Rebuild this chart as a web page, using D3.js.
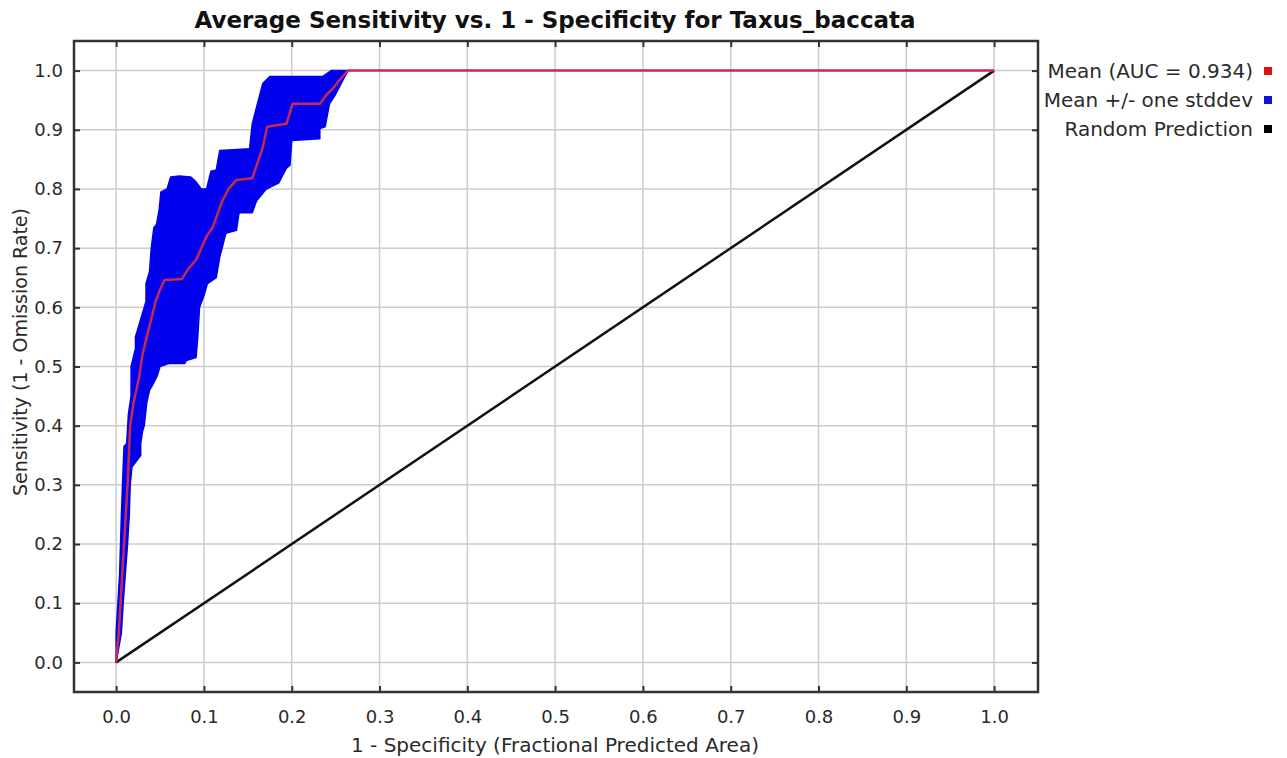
<!DOCTYPE html>
<html>
<head>
<meta charset="utf-8">
<script src="https://cdnjs.cloudflare.com/ajax/libs/d3/7.8.5/d3.min.js"></script>
<style>
  body { margin: 0; background: #fff; }
  text { font-family: "DejaVu Sans", Verdana, sans-serif; }
</style>
</head>
<body>
<svg id="chart" width="1287" height="758"></svg>
<script>
// mean ROC curve (1 - specificity, sensitivity)
var meanX = [0, 0.003, 0.005, 0.009, 0.013, 0.016, 0.020, 0.026, 0.030, 0.034, 0.040, 0.045, 0.050, 0.055, 0.075, 0.082, 0.091, 0.097, 0.103, 0.110, 0.116, 0.121, 0.128, 0.137, 0.155, 0.160, 0.167, 0.172, 0.194, 0.201, 0.232, 0.240, 0.247, 0.255, 0.264, 1.0];
var meanY = [0, 0.05, 0.10, 0.20, 0.30, 0.40, 0.44, 0.48, 0.52, 0.545, 0.58, 0.61, 0.63, 0.646, 0.648, 0.665, 0.68, 0.70, 0.72, 0.735, 0.76, 0.78, 0.80, 0.815, 0.818, 0.84, 0.87, 0.905, 0.91, 0.944, 0.944, 0.96, 0.97, 0.985, 1.0, 1.0];

// mean + one stddev (upper edge of band)
var upperX = [0, 0.000, 0.004, 0.006, 0.008, 0.009, 0.012, 0.014, 0.017, 0.017, 0.022, 0.022, 0.028, 0.034, 0.034, 0.038, 0.040, 0.043, 0.046, 0.049, 0.051, 0.058, 0.062, 0.072, 0.085, 0.091, 0.097, 0.103, 0.108, 0.114, 0.118, 0.152, 0.155, 0.162, 0.167, 0.175, 0.235, 0.245];
var upperY = [0, 0.05, 0.15, 0.25, 0.33, 0.365, 0.37, 0.42, 0.45, 0.50, 0.53, 0.55, 0.58, 0.61, 0.64, 0.66, 0.70, 0.735, 0.74, 0.765, 0.795, 0.80, 0.82, 0.822, 0.82, 0.812, 0.80, 0.80, 0.83, 0.832, 0.865, 0.868, 0.91, 0.95, 0.978, 0.99, 0.99, 1.0];

// mean - one stddev (lower edge of band)
var lowerX = [0, 0.006, 0.008, 0.010, 0.013, 0.015, 0.016, 0.018, 0.028, 0.028, 0.030, 0.032, 0.035, 0.038, 0.042, 0.047, 0.050, 0.060, 0.078, 0.080, 0.091, 0.093, 0.095, 0.100, 0.104, 0.114, 0.118, 0.125, 0.137, 0.140, 0.155, 0.160, 0.171, 0.185, 0.194, 0.198, 0.200, 0.232, 0.232, 0.238, 0.243, 0.250, 0.258, 0.264];
var lowerY = [0, 0.05, 0.10, 0.14, 0.20, 0.25, 0.30, 0.33, 0.35, 0.37, 0.39, 0.40, 0.44, 0.46, 0.47, 0.485, 0.50, 0.505, 0.505, 0.51, 0.515, 0.55, 0.60, 0.62, 0.64, 0.65, 0.685, 0.725, 0.73, 0.76, 0.76, 0.78, 0.80, 0.81, 0.835, 0.84, 0.882, 0.885, 0.902, 0.905, 0.944, 0.96, 0.983, 1.0];

var randomX = [0, 1];
var randomY = [0, 1];

var ticks = [0, 0.1, 0.2, 0.3, 0.4, 0.5, 0.6, 0.7, 0.8, 0.9, 1.0];
var legendLabels = ["Mean (AUC = 0.934)", "Mean +/- one stddev", "Random Prediction"];
var legendColors = ["#e01010", "#1010e0", "#000000"];

// plot box
var margin = {top: 41, right: 249, bottom: 66, left: 74},
    width = 1287 - margin.left - margin.right,
    height = 758 - margin.top - margin.bottom;

var x = d3.scaleLinear().domain([-0.048, 1.05]).range([0, width]);
var y = d3.scaleLinear().domain([-0.05, 1.05]).range([height, 0]);

var svg = d3.select("#chart");
var g = svg.append("g")
    .attr("transform", "translate(" + margin.left + "," + margin.top + ")");

// grid
g.selectAll(".gx").data(ticks).enter().append("line")
    .attr("x1", function(d) { return x(d); })
    .attr("x2", function(d) { return x(d); })
    .attr("y1", 0).attr("y2", height)
    .attr("stroke", "#cccccc").attr("stroke-width", 1.5);
g.selectAll(".gy").data(ticks).enter().append("line")
    .attr("y1", function(d) { return y(d); })
    .attr("y2", function(d) { return y(d); })
    .attr("x1", 0).attr("x2", width)
    .attr("stroke", "#cccccc").attr("stroke-width", 1.5);

// std band
var line = d3.line().x(function(d) { return x(d[0]); }).y(function(d) { return y(d[1]); });
var upperPts = upperX.map(function(d, i) { return [d, upperY[i]]; });
var lowerPts = lowerX.map(function(d, i) { return [d, lowerY[i]]; });
var band = upperPts.concat(lowerPts.slice().reverse());
g.append("path")
    .attr("d", line(band) + "Z")
    .attr("fill", "#0000ee")
    .attr("stroke", "#0000ee")
    .attr("stroke-width", 1.5)
    .attr("stroke-linejoin", "round");

// random prediction
g.append("path")
    .attr("d", line(randomX.map(function(d, i) { return [d, randomY[i]]; })))
    .attr("fill", "none").attr("stroke", "#111").attr("stroke-width", 2.5);

// mean
g.append("path")
    .attr("d", line(meanX.map(function(d, i) { return [d, meanY[i]]; })))
    .attr("fill", "none").attr("stroke", "#c42a52").attr("stroke-width", 2.5)
    .attr("stroke-linejoin", "round");

// frame
g.append("rect")
    .attr("width", width).attr("height", height)
    .attr("fill", "none").attr("stroke", "#333").attr("stroke-width", 2.5);

// axes with ticks pointing inward
g.append("g")
    .attr("transform", "translate(0," + height + ")")
    .call(d3.axisBottom(x).tickValues(ticks).tickFormat(d3.format(".1f")).tickSizeInner(-6).tickSizeOuter(0).tickPadding(18))
    .call(function(a) { a.select(".domain").remove(); });
g.append("g")
    .call(d3.axisLeft(y).tickValues(ticks).tickFormat(d3.format(".1f")).tickSizeInner(-6).tickSizeOuter(0).tickPadding(11))
    .call(function(a) { a.select(".domain").remove(); });
g.append("g")
    .call(d3.axisTop(x).tickValues(ticks).tickFormat("").tickSizeInner(-6).tickSizeOuter(0))
    .call(function(a) { a.select(".domain").remove(); });
g.append("g")
    .attr("transform", "translate(" + width + ",0)")
    .call(d3.axisRight(y).tickValues(ticks).tickFormat("").tickSizeInner(-6).tickSizeOuter(0))
    .call(function(a) { a.select(".domain").remove(); });

g.selectAll(".tick line").attr("stroke", "#333").attr("stroke-width", 2);
g.selectAll(".tick text").attr("font-size", 18).attr("fill", "#2a2a2a")
    .style("font-family", "'DejaVu Sans', Verdana, sans-serif");

// title and axis labels
svg.append("text")
    .attr("x", 555).attr("y", 28)
    .attr("text-anchor", "middle")
    .attr("font-size", 23).attr("font-weight", "bold").attr("fill", "#111")
    .text("Average Sensitivity vs. 1 - Specificity for Taxus_baccata");

svg.append("text")
    .attr("x", 555).attr("y", 752)
    .attr("text-anchor", "middle")
    .attr("font-size", 20).attr("fill", "#2a2a2a")
    .text("1 - Specificity (Fractional Predicted Area)");

svg.append("text")
    .attr("transform", "translate(27,352) rotate(-90)")
    .attr("text-anchor", "middle")
    .attr("font-size", 19).attr("fill", "#2a2a2a")
    .text("Sensitivity (1 - Omission Rate)");

// legend
var legend = svg.selectAll(".legend")
    .data(legendLabels)
  .enter().append("g")
    .attr("class", "legend")
    .attr("transform", function(d, i) { return "translate(0," + (71 + i * 29) + ")"; });

legend.append("text")
    .attr("x", 1253).attr("y", 7)
    .attr("text-anchor", "end")
    .attr("font-size", 20).attr("fill", "#2a2a2a")
    .text(function(d) { return d; });

legend.append("rect")
    .attr("x", 1264).attr("y", -4)
    .attr("width", 8).attr("height", 8)
    .attr("fill", function(d, i) { return legendColors[i]; });
</script>
</body>
</html>
